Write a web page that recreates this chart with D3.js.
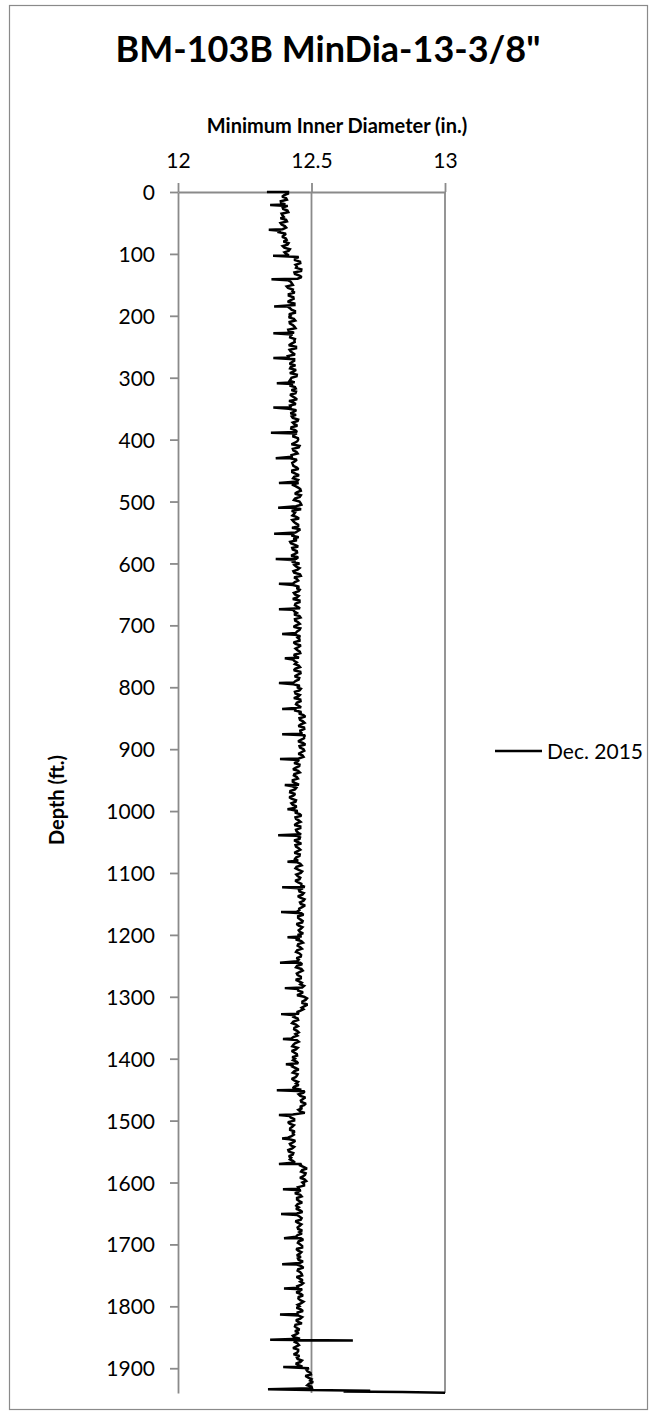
<!DOCTYPE html>
<html>
<head>
<meta charset="utf-8">
<script src="https://cdn.jsdelivr.net/npm/d3@7"></script>
<style>
  html, body { margin: 0; padding: 0; background: #fff; }
  svg { display: block; }
  text { font-family: Lato, "Open Sans", sans-serif; fill: #000; }
</style>
</head>
<body>
<svg id="chart" width="656" height="1416"></svg>
<script>
// ---------------- DATA ----------------
const chartTitle = 'BM-103B MinDia-13-3/8"';
const xAxisTitle = "Minimum Inner Diameter (in.)";
const yAxisTitle = "Depth (ft.)";
const seriesName = "Dec. 2015";
const xTickValues = [12, 12.5, 13];
const yTickValues = [0, 100, 200, 300, 400, 500, 600, 700, 800, 900, 1000, 1100, 1200, 1300, 1400, 1500, 1600, 1700, 1800, 1900];
const depthMax = 1940;

// Log readings: minimum inner diameter (in.), every 5 ft from 0 ft
const baseDepthStep = 5;
const baseDiameter = [
  12.412, 12.398, 12.405, 12.385, 12.402, 12.392, 12.410, 12.388,
  12.396, 12.405, 12.384, 12.400, 12.392, 12.378, 12.398, 12.404,
  12.395, 12.410, 12.398, 12.415, 12.405, 12.452, 12.438, 12.458,
  12.445, 12.462, 12.436, 12.455, 12.448, 12.422, 12.430, 12.412,
  12.428, 12.415, 12.432, 12.420, 12.436, 12.410, 12.425, 12.438,
  12.422, 12.434, 12.418, 12.430, 12.440, 12.415, 12.428, 12.420,
  12.436, 12.425, 12.442, 12.418, 12.430, 12.412, 12.435, 12.426,
  12.440, 12.420, 12.432, 12.445, 12.425, 12.418, 12.430, 12.438,
  12.425, 12.440, 12.428, 12.446, 12.432, 12.420, 12.415, 12.434,
  12.442, 12.430, 12.448, 12.436, 12.425, 12.440, 12.445, 12.432,
  12.450, 12.438, 12.455, 12.430, 12.444, 12.425, 12.420, 12.438,
  12.430, 12.445, 12.428, 12.440, 12.435, 12.450, 12.452, 12.440,
  12.458, 12.445, 12.460, 12.438, 12.455, 12.462, 12.440, 12.426,
  12.435, 12.445, 12.428, 12.440, 12.450, 12.458, 12.440, 12.425,
  12.432, 12.420, 12.438, 12.428, 12.445, 12.436, 12.450, 12.440,
  12.455, 12.442, 12.448, 12.435, 12.460, 12.445, 12.438, 12.430,
  12.444, 12.452, 12.438, 12.446, 12.455, 12.440, 12.448, 12.432,
  12.445, 12.455, 12.438, 12.450, 12.442, 12.458, 12.446, 12.436,
  12.448, 12.455, 12.440, 12.452, 12.446, 12.458, 12.440, 12.430,
  12.445, 12.452, 12.440, 12.458, 12.447, 12.454, 12.440, 12.432,
  12.446, 12.455, 12.440, 12.450, 12.458, 12.445, 12.452, 12.440,
  12.462, 12.470, 12.455, 12.468, 12.460, 12.472, 12.458, 12.465,
  12.472, 12.460, 12.468, 12.455, 12.470, 12.462, 12.466, 12.452,
  12.448, 12.455, 12.440, 12.450, 12.436, 12.445, 12.430, 12.440,
  12.428, 12.438, 12.420, 12.432, 12.425, 12.440, 12.430, 12.436,
  12.448, 12.456, 12.440, 12.452, 12.445, 12.458, 12.442, 12.450,
  12.445, 12.455, 12.448, 12.440, 12.452, 12.446, 12.456, 12.442,
  12.450, 12.458, 12.444, 12.452, 12.460, 12.448, 12.455, 12.450,
  12.462, 12.468, 12.455, 12.466, 12.458, 12.470, 12.460, 12.465,
  12.455, 12.462, 12.450, 12.458, 12.465, 12.452, 12.460, 12.456,
  12.448, 12.456, 12.462, 12.450, 12.458, 12.446, 12.455, 12.460,
  12.452, 12.458, 12.446, 12.462, 12.455, 12.448, 12.460, 12.454,
  12.458, 12.465, 12.450, 12.460, 12.472, 12.478, 12.466, 12.474,
  12.470, 12.445, 12.438, 12.448, 12.432, 12.442, 12.436, 12.446,
  12.440, 12.432, 12.445, 12.438, 12.428, 12.442, 12.435, 12.446,
  12.438, 12.445, 12.430, 12.440, 12.436, 12.448, 12.440, 12.435,
  12.442, 12.436, 12.462, 12.470, 12.458, 12.468, 12.462, 12.472,
  12.465, 12.458, 12.430, 12.422, 12.435, 12.418, 12.428, 12.420,
  12.430, 12.425, 12.418, 12.432, 12.422, 12.428, 12.415, 12.430,
  12.424, 12.430, 12.462, 12.472, 12.465, 12.478, 12.468, 12.474,
  12.466, 12.472, 12.455, 12.450, 12.458, 12.446, 12.455, 12.448,
  12.452, 12.458, 12.445, 12.455, 12.460, 12.448, 12.456, 12.450,
  12.455, 12.448, 12.460, 12.452, 12.458, 12.465, 12.450, 12.456,
  12.460, 12.452, 12.456, 12.462, 12.450, 12.458, 12.465, 12.454,
  12.458, 12.462, 12.450, 12.456, 12.460, 12.452, 12.458, 12.462,
  12.455, 12.460, 12.448, 12.452, 12.458, 12.450, 12.440, 12.446,
  12.438, 12.444, 12.435, 12.440, 12.448, 12.442, 12.450, 12.446,
  12.455, 12.448, 12.458, 12.452, 12.490, 12.485, 12.498, 12.488,
  12.495, 12.490, 12.500, 12.492
];

// Intermediate readings, every 5 ft starting at 2.5 ft
const midDepthStart = 2.5;
const midDiameter = [
  12.412, 12.390, 12.408, 12.386, 12.411, 12.394, 12.413, 12.391,
  12.384, 12.408, 12.388, 12.405, 12.382, 12.404, 12.390, 12.407,
  12.414, 12.392, 12.419, 12.399, 12.415, 12.438, 12.457, 12.440,
  12.442, 12.461, 12.438, 12.463, 12.411, 12.426, 12.407, 12.430,
  12.437, 12.415, 12.433, 12.411, 12.436, 12.419, 12.438, 12.416,
  12.415, 12.439, 12.419, 12.436, 12.413, 12.435, 12.421, 12.438,
  12.437, 12.415, 12.442, 12.422, 12.438, 12.416, 12.435, 12.418,
  12.423, 12.442, 12.419, 12.444, 12.422, 12.437, 12.418, 12.441,
  12.442, 12.420, 12.438, 12.416, 12.441, 12.424, 12.443, 12.421,
  12.426, 12.450, 12.430, 12.447, 12.424, 12.446, 12.432, 12.449,
  12.447, 12.425, 12.452, 12.432, 12.448, 12.426, 12.445, 12.428,
  12.432, 12.451, 12.428, 12.453, 12.431, 12.446, 12.427, 12.450,
  12.460, 12.438, 12.456, 12.434, 12.459, 12.442, 12.461, 12.439,
  12.429, 12.453, 12.433, 12.450, 12.427, 12.449, 12.435, 12.452,
  12.445, 12.423, 12.450, 12.430, 12.446, 12.424, 12.443, 12.426,
  12.436, 12.455, 12.432, 12.457, 12.435, 12.450, 12.431, 12.454,
  12.456, 12.434, 12.452, 12.430, 12.455, 12.438, 12.457, 12.435,
  12.435, 12.459, 12.439, 12.456, 12.433, 12.455, 12.441, 12.458,
  12.455, 12.433, 12.460, 12.440, 12.456, 12.434, 12.453, 12.436,
  12.438, 12.457, 12.434, 12.459, 12.437, 12.452, 12.433, 12.456,
  12.460, 12.438, 12.456, 12.434, 12.459, 12.442, 12.461, 12.439,
  12.453, 12.477, 12.457, 12.474, 12.451, 12.473, 12.459, 12.476,
  12.472, 12.450, 12.477, 12.457, 12.473, 12.451, 12.470, 12.453,
  12.435, 12.454, 12.431, 12.456, 12.434, 12.449, 12.430, 12.453,
  12.443, 12.421, 12.439, 12.417, 12.442, 12.425, 12.444, 12.422,
  12.438, 12.462, 12.442, 12.459, 12.436, 12.458, 12.444, 12.461,
  12.457, 12.435, 12.462, 12.442, 12.458, 12.436, 12.455, 12.438,
  12.444, 12.463, 12.440, 12.465, 12.443, 12.458, 12.439, 12.462,
  12.475, 12.453, 12.471, 12.449, 12.474, 12.457, 12.476, 12.454,
  12.446, 12.470, 12.450, 12.467, 12.444, 12.466, 12.452, 12.469,
  12.463, 12.441, 12.468, 12.448, 12.464, 12.442, 12.461, 12.444,
  12.446, 12.465, 12.442, 12.467, 12.445, 12.460, 12.441, 12.464,
  12.472, 12.450, 12.468, 12.446, 12.483, 12.466, 12.485, 12.463,
  12.459, 12.453, 12.433, 12.450, 12.427, 12.449, 12.435, 12.452,
  12.447, 12.425, 12.452, 12.432, 12.448, 12.426, 12.445, 12.428,
  12.431, 12.450, 12.427, 12.452, 12.430, 12.445, 12.426, 12.449,
  12.452, 12.430, 12.474, 12.452, 12.477, 12.460, 12.479, 12.457,
  12.451, 12.475, 12.418, 12.435, 12.412, 12.434, 12.420, 12.437,
  12.434, 12.412, 12.439, 12.419, 12.435, 12.413, 12.432, 12.415,
  12.419, 12.438, 12.458, 12.483, 12.461, 12.476, 12.457, 12.480,
  12.472, 12.450, 12.460, 12.438, 12.463, 12.446, 12.465, 12.443,
  12.442, 12.466, 12.446, 12.463, 12.440, 12.462, 12.448, 12.465,
  12.464, 12.442, 12.469, 12.449, 12.465, 12.443, 12.462, 12.445,
  12.449, 12.468, 12.445, 12.470, 12.448, 12.463, 12.444, 12.467,
  12.469, 12.447, 12.465, 12.443, 12.468, 12.451, 12.470, 12.448,
  12.444, 12.468, 12.448, 12.465, 12.442, 12.464, 12.438, 12.455,
  12.452, 12.430, 12.457, 12.437, 12.453, 12.431, 12.450, 12.433,
  12.445, 12.464, 12.441, 12.466, 12.481, 12.496, 12.477, 12.500,
  12.506, 12.484, 12.502
];

// Narrow readings (collar / joint spikes) and the end-of-log excursion
const spikeDepth = [0, 21, 61, 103, 141, 185, 228, 268, 309, 348, 389, 430, 470, 510, 552, 593, 633, 674, 714, 753, 793, 835, 876, 916, 958, 997, 1039, 1082, 1123, 1163, 1204, 1245, 1286, 1328, 1368, 1409, 1451, 1491, 1529, 1570, 1611, 1651, 1690, 1732, 1771, 1813, 1854, 1855, 1898, 1934, 1936.5, 1937.5, 1938.5, 1939.5];
const spikeDiameter = [12.333, 12.345, 12.340, 12.356, 12.350, 12.360, 12.357, 12.357, 12.370, 12.357, 12.348, 12.366, 12.378, 12.375, 12.360, 12.366, 12.378, 12.378, 12.390, 12.400, 12.378, 12.390, 12.390, 12.382, 12.400, 12.410, 12.375, 12.410, 12.390, 12.386, 12.410, 12.382, 12.400, 12.386, 12.393, 12.404, 12.370, 12.378, 12.390, 12.378, 12.393, 12.386, 12.397, 12.390, 12.397, 12.382, 12.345, 12.655, 12.394, 12.337, 12.720, 12.620, 12.840, 13.000];

// ---------------- CHART ----------------
const svg = d3.select("#chart");
const W = 656, H = 1416;
const plot = { left: 178, right: 445, top: 192, bottom: 1393 };
const gray = "#8a8a8a";

svg.append("rect").attr("width", W).attr("height", H).attr("fill", "#fff");
svg.append("rect")
  .attr("x", 9.5).attr("y", 5.5).attr("width", 638).attr("height", 1404)
  .attr("fill", "none").attr("stroke", gray).attr("stroke-width", 1.2);

const x = d3.scaleLinear().domain([12, 13]).range([plot.left, plot.right]);
const y = d3.scaleLinear().domain([0, depthMax]).range([plot.top, plot.bottom]);

// vertical gridlines
svg.append("g").selectAll("line")
  .data(xTickValues.filter(v => v !== 12))
  .join("line")
  .attr("x1", d => x(d)).attr("x2", d => x(d))
  .attr("y1", plot.top).attr("y2", plot.bottom)
  .attr("stroke", gray).attr("stroke-width", 1.8);

// top axis
const xAxis = svg.append("g")
  .attr("transform", `translate(0,${plot.top})`)
  .call(d3.axisTop(x).tickValues(xTickValues).tickFormat(d3.format("")).tickSize(9).tickSizeOuter(0).tickPadding(15));
// left axis
const yAxis = svg.append("g")
  .attr("transform", `translate(${plot.left},0)`)
  .call(d3.axisLeft(y).tickValues(yTickValues).tickFormat(d3.format("d")).tickSize(8).tickSizeOuter(0).tickPadding(15));

[xAxis, yAxis].forEach(g => {
  g.selectAll("path.domain").attr("stroke", gray).attr("stroke-width", 1.8);
  g.selectAll(".tick line").attr("stroke", gray).attr("stroke-width", 1.8);
  g.selectAll(".tick text").attr("fill", "#000")
    .style("font-family", 'Lato, "Open Sans", sans-serif').style("font-size", "21px");
});
xAxis.selectAll(".tick text").attr("dy", "0");
yAxis.selectAll(".tick text").attr("dy", "0.36em");

// data line
const pts = [];
baseDiameter.forEach((v, i) => pts.push({ d: i * baseDepthStep, v, k: 1 }));
midDiameter.forEach((v, i) => pts.push({ d: midDepthStart + i * baseDepthStep, v, k: 1 }));
spikeDepth.forEach((dp, i) => pts.push({ d: dp, v: spikeDiameter[i], k: 0 }));
pts.sort((a, b) => (a.d - b.d) || (a.k - b.k));

const line = d3.line().x(p => x(p.v)).y(p => y(p.d));
svg.append("path")
  .datum(pts)
  .attr("d", line)
  .attr("fill", "none")
  .attr("stroke", "#000")
  .attr("stroke-width", 2.5)
  .attr("stroke-linejoin", "miter")
  .attr("stroke-miterlimit", 2);

// titles
svg.append("text")
  .attr("x", 328).attr("y", 62)
  .attr("text-anchor", "middle")
  .style("font-size", "36px").style("font-weight", "bold")
  .text(chartTitle);

svg.append("text")
  .attr("x", 337).attr("y", 133)
  .attr("text-anchor", "middle")
  .style("font-size", "20px").style("font-weight", "bold")
  .text(xAxisTitle);

svg.append("text")
  .attr("transform", "translate(64,800) rotate(-90)")
  .attr("text-anchor", "middle")
  .style("font-size", "20px").style("font-weight", "bold")
  .text(yAxisTitle);

// legend
const lg = svg.append("g");
lg.append("line")
  .attr("x1", 495).attr("x2", 542).attr("y1", 751).attr("y2", 751)
  .attr("stroke", "#000").attr("stroke-width", 2.5);
lg.append("text")
  .attr("x", 547).attr("y", 751).attr("dy", "0.36em")
  .style("font-size", "21px")
  .text(seriesName);
</script>
</body>
</html>
